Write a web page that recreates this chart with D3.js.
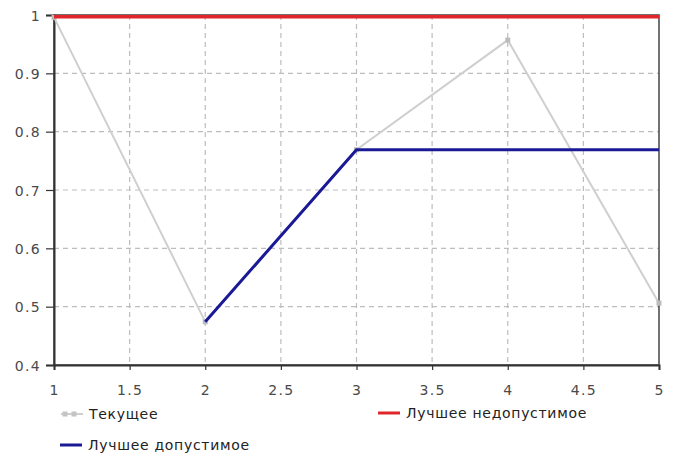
<!DOCTYPE html>
<html><head><meta charset="utf-8">
<script src="https://cdn.jsdelivr.net/npm/d3@7"></script>
<style>body{margin:0;background:#fff;}svg{display:block;}text{font-family:"DejaVu Sans",Verdana,sans-serif;}</style>
</head><body><svg id="c" width="675" height="456"></svg>
<script>
const xTicks = [1,1.5,2,2.5,3,3.5,4,4.5,5];
const yTicks = [0.4,0.5,0.6,0.7,0.8,0.9,1];
const currentX = [1,2,3,4,5];
const currentY = [0.996,0.474,0.769,0.957,0.506];
const bestFeasibleX = [2,3,4,5];
const bestFeasibleY = [0.474,0.769,0.769,0.769];
const bestInfeasibleX = [1,2,3,4,5];
const bestInfeasibleY = [0.997,0.997,0.997,0.997,0.997];
const seriesNames = ["Текущее","Лучшее недопустимое","Лучшее допустимое"];
const colors = ["#cfcfcf","#e0262b","#1a1a96"];

const svg = d3.select("#c");
const m = {l:54,r:16,t:15,b:91};
const W = 675, H = 456;
const x = d3.scaleLinear().domain([1,5]).range([m.l, W-m.r]);
const y = d3.scaleLinear().domain([0.4,1]).range([H-m.b, m.t]);

// grid
const g = svg.append("g");
g.selectAll("line.vx").data(xTicks.slice(1,-1)).enter().append("line")
 .attr("x1",d=>x(d)).attr("x2",d=>x(d)).attr("y1",m.t).attr("y2",H-m.b)
 .attr("stroke","#bdbdbd").attr("stroke-dasharray","5,4").attr("stroke-width",1.2);
g.selectAll("line.hy").data(yTicks.slice(1,-1)).enter().append("line")
 .attr("y1",d=>y(d)).attr("y2",d=>y(d)).attr("x1",m.l).attr("x2",W-m.r)
 .attr("stroke","#bdbdbd").attr("stroke-dasharray","5,4").attr("stroke-width",1.2);

// frame
svg.append("rect").attr("x",m.l).attr("y",m.t).attr("width",W-m.r-m.l).attr("height",H-m.b-m.t)
 .attr("fill","none").attr("stroke","#444").attr("stroke-width",1.5);

// axes
const xa = svg.append("g").attr("transform",`translate(0,${H-m.b})`)
 .call(d3.axisBottom(x).tickValues(xTicks).tickFormat(d3.format("")).tickSize(5).tickPadding(15));
const ya = svg.append("g").attr("transform",`translate(${m.l},0)`)
 .call(d3.axisLeft(y).tickValues(yTicks).tickFormat(d3.format("")).tickSize(8).tickPadding(5));
[xa,ya].forEach(a=>{
 a.attr("font-size",null).attr("font-family",null);
 a.select(".domain").attr("stroke","#333").attr("stroke-width",2);
 a.selectAll(".tick line").attr("stroke","#333").attr("stroke-width",1.2);
 a.selectAll(".tick text").attr("fill","#4a4a4a")
  .style("font-size","14px").style("letter-spacing","1.3px")
  .style("font-family","'DejaVu Sans', Verdana, sans-serif");
});
ya.selectAll(".tick text").attr("dy","0.36em");

const line = d3.line().x(d=>x(d[0])).y(d=>y(d[1]));
const cur = currentX.map((v,i)=>[v,currentY[i]]);
const bf = bestFeasibleX.map((v,i)=>[v,bestFeasibleY[i]]);
const bi = bestInfeasibleX.map((v,i)=>[v,bestInfeasibleY[i]]);

svg.append("path").attr("d",line(cur)).attr("fill","none").attr("stroke",colors[0]).attr("stroke-width",2);
svg.selectAll("rect.pt").data(cur).enter().append("rect")
 .attr("x",d=>x(d[0])-2.5).attr("y",d=>y(d[1])-2.5).attr("width",5).attr("height",5).attr("fill","#bcbcbc");
svg.append("path").attr("d",line(bi)).attr("fill","none").attr("stroke",colors[1]).attr("stroke-width",3.5);
svg.append("path").attr("d",line(bf)).attr("fill","none").attr("stroke",colors[2]).attr("stroke-width",3);

// legend
const lg = svg.append("g");
const items = [
 {name:seriesNames[0], c:colors[0], x:61, y:414, marker:true},
 {name:seriesNames[1], c:colors[1], x:378, y:413},
 {name:seriesNames[2], c:colors[2], x:60, y:445}
];
items.forEach(it=>{
 lg.append("line").attr("x1",it.x).attr("x2",it.x+22).attr("y1",it.y).attr("y2",it.y)
  .attr("stroke",it.c).attr("stroke-width",it.marker?2:3);
 if(it.marker){
  [it.x+4,it.x+13].forEach(px=>lg.append("rect").attr("x",px-2.5).attr("y",it.y-2.5).attr("width",5).attr("height",5).attr("fill","#c4c4c4"));
 }
 lg.append("text").attr("x",it.x+28).attr("y",it.y).attr("dy","0.36em")
  .style("font-size","14px").style("letter-spacing","0.7px").attr("fill","#222").text(it.name);
});
</script></body></html>
